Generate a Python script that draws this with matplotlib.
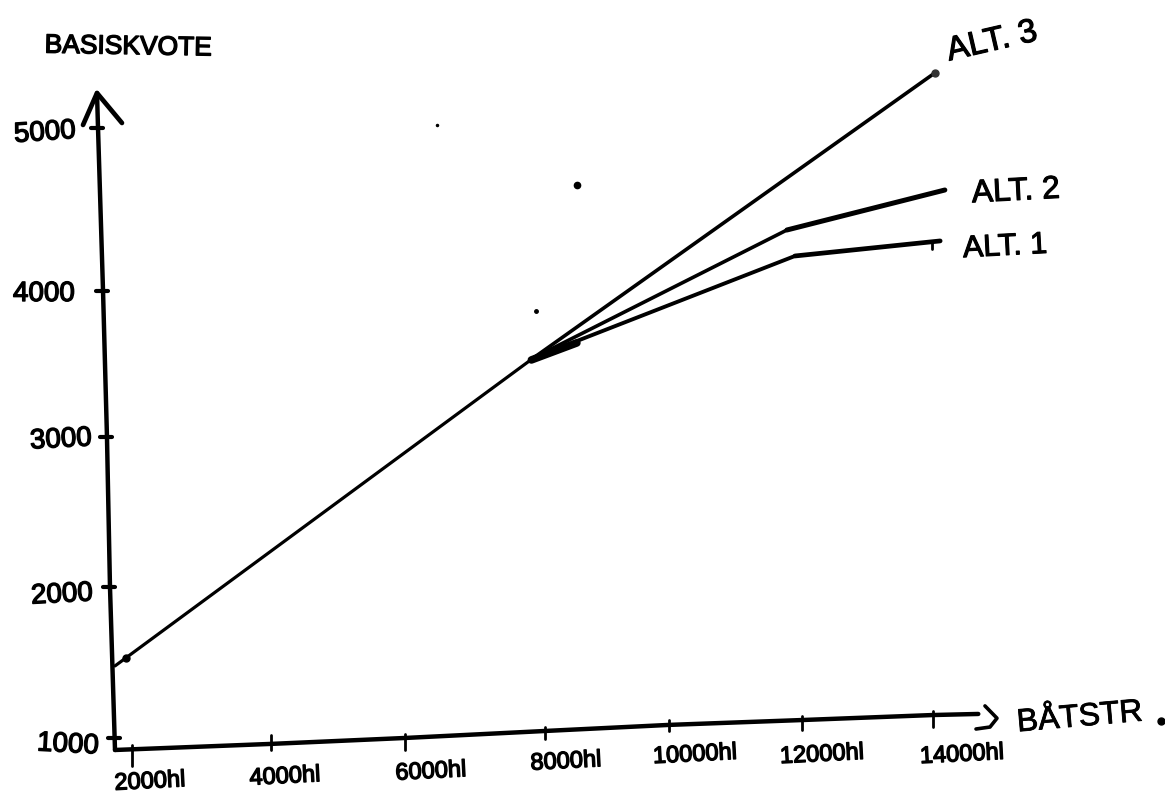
import matplotlib
matplotlib.use("Agg")
import matplotlib.pyplot as plt
import matplotlib.patheffects as pe

W, H = 1165, 793

# лінії (hl, квота)
common_x = [1746, 8000]
common_y = [1474, 3500]
alt3_x = [8000, 14000]
alt3_y = [3500, 5375]
alt2_x = [8000, 11790]
alt2_y = [3500, 4342]
alt2_end_x = [11790, 14150]
alt2_end_y = [4342, 4605]
alt1_x = [8000, 11910]
alt1_y = [3500, 4171]
alt1_end_x = [11910, 14080]
alt1_end_y = [4171, 4270]

x_tick_labels = ["2000hl", "4000hl", "6000hl", "8000hl", "10000hl", "12000hl", "14000hl"]
y_tick_labels = ["1000", "2000", "3000", "4000", "5000"]

# поділки там, де вони намальовані від руки
x_tick_pos = [2000, 4078, 6081, 8173, 10027, 12015, 13973]
x_tick_low = [816, 921, 921, 993, 1046, 1053, 1072]
x_tick_high = [954, 1020, 1026, 1072, 1118, 1145, 1178]
y_tick_pos = [1000, 1993, 2980, 3941, 5013]
y_tick_at = [1746, 1671, 1626, 1567, 1492]

# нахилені руками осі
x_axis_x = [1746, 4078, 6081, 8173, 10027, 12015, 13973, 14650]
x_axis_y = [921, 961, 1000, 1046, 1086, 1118, 1151, 1158]
y_axis_x = [1477, 1492, 1567, 1626, 1671, 1746]
y_axis_y = [5243, 5013, 3941, 2980, 1993, 921]

fig = plt.figure(figsize=(W / 100, H / 100), dpi=100)
ax = fig.add_axes([0, 0, 1, 1])
ax.set_xlim(27, 17441)
ax.set_ylim(638, 5855)
ax.axis("off")


def note(px, py, s, size, rot=0, bold=1.0):
    fig.text(px / W, 1 - py / H, s, fontsize=size, rotation=rot, ha="center", va="center",
             family="Liberation Sans", rotation_mode="anchor",
             path_effects=[pe.withStroke(linewidth=bold, foreground="black")])


def ink(xs, ys, lw):
    ax.plot(xs, ys, color="black", lw=lw, solid_capstyle="round", solid_joinstyle="round")


# осі
ink(y_axis_x, y_axis_y, 3.2)
ink(x_axis_x, x_axis_y, 3.2)

# стрілки
ink([1268, 1477, 1850], [5033, 5243, 5046], 3.4)
ink([14750, 14930, 14825, 14616], [1211, 1130, 1072, 1059], 2.6)

# поділки
for t, lo, hi in zip(x_tick_pos, x_tick_low, x_tick_high):
    ink([t, t], [lo, hi], 2)
for t, bx in zip(y_tick_pos, y_tick_at):
    ink([bx - 100, bx + 80], [t, t], 3)

# дані
ink(common_x, common_y, 2.3)
ink(alt3_x, alt3_y, 2.6)
ink(alt2_x, alt2_y, 2.6)
ink(alt2_end_x, alt2_end_y, 3.6)
ink(alt1_x, alt1_y, 2.8)
ink(alt1_end_x, alt1_end_y, 3.4)
ink([7970, 8650], [3487, 3599], 5.5)
ink([13960, 13960], [4217, 4270], 2)
ax.plot([14000], [5375], "o", color="#333333", ms=5)
ax.plot([1910], [1527], "o", color="black", ms=5)

# цятки скану
ax.plot([8650], [4638], "o", color="black", ms=4.5)
ax.plot([8040], [3809], "o", color="black", ms=2.5)
ax.plot([6560], [5033], "o", color="black", ms=1.5)
ax.plot([17380], [1110], "o", color="black", ms=5)

# підписи
note(128, 47, "BASISKVOTE", 19, -1)
note(45, 133, y_tick_labels[4], 20, 4)
note(44, 294, y_tick_labels[3], 20, 0)
note(61, 440, y_tick_labels[2], 20, 3)
note(62, 595, y_tick_labels[1], 20, 3)
note(68, 745, y_tick_labels[0], 20, -3)

xl_px = [150, 285, 431, 566, 695, 822, 962]
xl_py = [782, 777, 772, 762, 755, 755, 755]
for px, py, s in zip(xl_px, xl_py, x_tick_labels):
    note(px, py, s, 17, 3)

note(1080, 718, "BÅTSTR", 23, 5, 0.6)
note(992, 42, "ALT. 3", 24, 13, 0.8)
note(1016, 192, "ALT. 2", 23, 3, 0.8)
note(1005, 247, "ALT. 1", 22, 3, 0.8)

fig.savefig("out.png", dpi=100)
